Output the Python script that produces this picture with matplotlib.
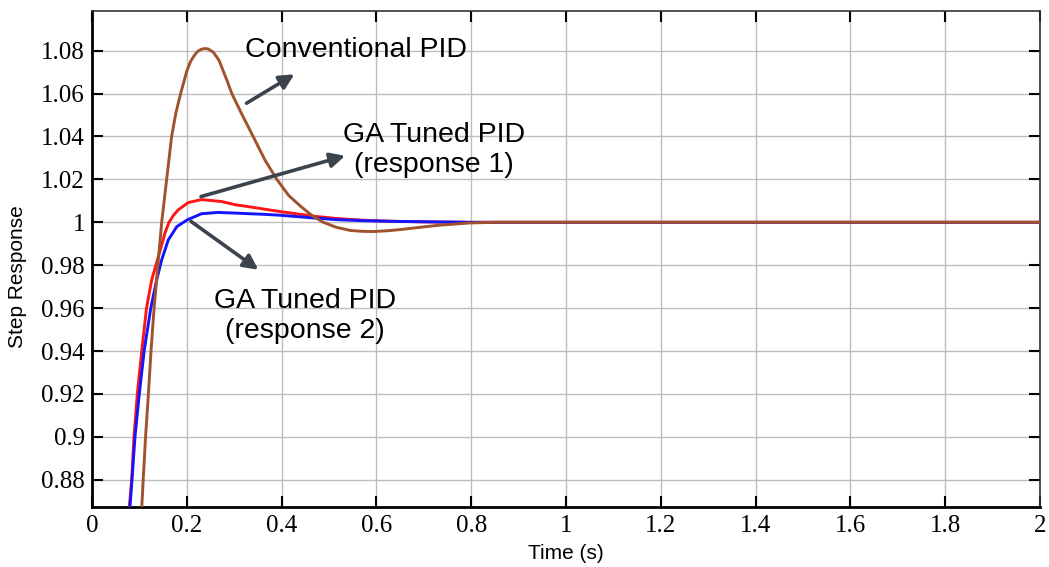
# Step response comparison: conventional PID vs GA tuned PID
import matplotlib.pyplot as plt
from matplotlib.patches import FancyArrowPatch

# Curves
t_conv = [0.1035, 0.105, 0.108, 0.113, 0.119, 0.1245, 0.131, 0.139, 0.147, 0.1575,
          0.168, 0.177, 0.187, 0.200, 0.208, 0.215, 0.222, 0.230, 0.238, 0.245,
          0.256, 0.268, 0.285, 0.295, 0.317, 0.340, 0.365, 0.390, 0.415, 0.440,
          0.465, 0.488, 0.515, 0.545, 0.570, 0.593, 0.620, 0.650, 0.685, 0.730,
          0.797, 0.850, 0.900, 2.0]
y_conv = [0.86, 0.867, 0.88, 0.90, 0.92, 0.94, 0.96, 0.98, 1.0, 1.02,
          1.04, 1.051, 1.06, 1.0705, 1.075, 1.0775, 1.0795, 1.0806, 1.081, 1.0808,
          1.0793, 1.0755, 1.066, 1.060, 1.050, 1.040, 1.029, 1.020, 1.0125, 1.0075,
          1.003, 1.0, 0.9977, 0.9962, 0.9958, 0.9957, 0.9960, 0.9966, 0.9975, 0.9986,
          0.9997, 1.0, 1.0, 1.0]

t_ga1 = [0.0765, 0.0787, 0.0837, 0.0886, 0.0956, 0.105, 0.115, 0.126, 0.140, 0.154,
         0.1625, 0.172, 0.182, 0.203, 0.231, 0.273, 0.302, 0.333, 0.365, 0.397,
         0.430, 0.474, 0.520, 0.570, 0.630, 0.700, 0.800, 0.900, 2.0]
y_ga1 = [0.86, 0.867, 0.88, 0.90, 0.92, 0.94, 0.96, 0.9732, 0.984, 0.995,
         1.0, 1.0033, 1.0058, 1.0092, 1.0106, 1.0097, 1.0082, 1.0072, 1.0061, 1.0050,
         1.0040, 1.0027, 1.0017, 1.0010, 1.0005, 1.0002, 1.0, 1.0, 1.0]

t_ga2 = [0.078, 0.080, 0.0844, 0.0907, 0.0998, 0.110, 0.124, 0.1365, 0.147, 0.161,
         0.179, 0.2015, 0.231, 0.266, 0.302, 0.333, 0.365, 0.397, 0.430, 0.474,
         0.520, 0.580, 0.650, 0.720, 0.800, 0.900, 2.0]
y_ga2 = [0.86, 0.867, 0.88, 0.90, 0.92, 0.94, 0.96, 0.9732, 0.9825, 0.9918,
         0.998, 1.0012, 1.004, 1.0046, 1.0043, 1.0040, 1.0037, 1.0033, 1.0027, 1.0019,
         1.0012, 1.0007, 1.0004, 1.0002, 1.0, 1.0, 1.0]

x_ticks = [0, 0.2, 0.4, 0.6, 0.8, 1, 1.2, 1.4, 1.6, 1.8, 2]
y_ticks = [0.88, 0.9, 0.92, 0.94, 0.96, 0.98, 1.0, 1.02, 1.04, 1.06, 1.08]
y_tick_labels = ['0.88', '0.9', '0.92', '0.94', '0.96', '0.98', '1', '1.02', '1.04', '1.06', '1.08']

fig = plt.figure(figsize=(10.49, 5.67), dpi=100)
ax = fig.add_axes([0.0877, 0.1058, 0.9037, 0.8752])

line_kw = dict(lw=2.1, solid_joinstyle='round', solid_capstyle='round')
ax.plot(t_ga1, y_ga1, color='#ff1414', zorder=3, **line_kw)
ax.plot(t_ga2, y_ga2, color='#1414ff', zorder=3, **line_kw)
ax.plot(t_conv, y_conv, color='#a0522d', zorder=4, **line_kw)

ax.set_xlim(0, 2)
ax.set_ylim(0.8673, 1.0986)
ax.set_xticks(x_ticks)
ax.set_xticklabels([('%g' % v) for v in x_ticks])
ax.set_yticks(y_ticks)
ax.set_yticklabels(y_tick_labels)
ax.grid(True, color='#bdbdbd', lw=1.0)
ax.set_axisbelow(True)

for lab in ax.get_xticklabels() + ax.get_yticklabels():
    lab.set_family('Liberation Serif')
    lab.set_fontsize(18)
ax.tick_params(direction='in', length=8, width=1.5, top=True, right=True, color='black')
ax.tick_params(axis='x', pad=6)
ax.tick_params(axis='y', pad=5)

for side in ['left', 'bottom']:
    ax.spines[side].set_linewidth(2.0)
for side in ['top', 'right']:
    ax.spines[side].set_linewidth(1.2)
    ax.spines[side].set_color('#333333')

ax.set_xlabel('Time (s)', family='Liberation Sans', fontsize=15)
ax.set_ylabel('Step Response', family='Liberation Sans', fontsize=15)
ax.xaxis.set_label_coords(0.5, -0.075)
ax.yaxis.set_label_coords(-0.069, 0.465)

# annotation texts and arrows
txt = dict(family='Liberation Sans', fontsize=20.5, ha='center', va='center',
           linespacing=1.2, zorder=5)
ax.text(0.558, 1.0805, 'Conventional PID', **txt)
ax.text(0.721, 1.0335, 'GA Tuned PID\n(response 1)', **txt)
ax.text(0.449, 0.9562, 'GA Tuned PID\n(response 2)', **txt)

arrows = [((0.326, 1.0555), (0.427, 1.069)),
          ((0.230, 1.012), (0.534, 1.031)),
          ((0.209, 1.0004), (0.351, 0.9779))]
for start, end in arrows:
    ax.add_patch(FancyArrowPatch(start, end, arrowstyle='-|>', mutation_scale=22,
                                 color='#3b434c', lw=2.6, shrinkA=0, shrinkB=0, zorder=6))

fig.savefig('out.png', dpi=100)
